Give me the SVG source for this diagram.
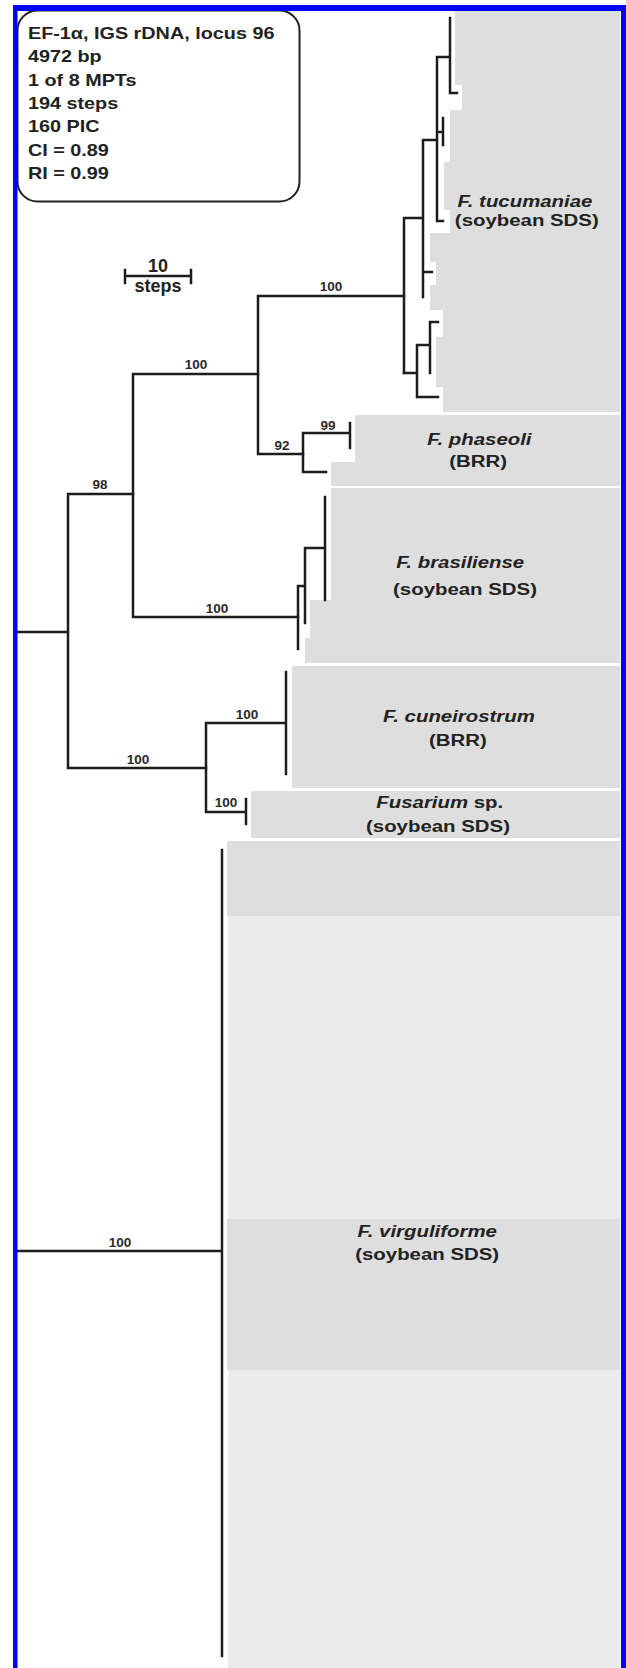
<svg xmlns="http://www.w3.org/2000/svg" width="626" height="1668" viewBox="0 0 626 1668">
<style>
.gray{fill:#dedede}
.light{fill:#ececec}
.br{stroke:#1c1c1c;stroke-width:2.5;fill:none;stroke-linecap:square}
.info{font-family:"Liberation Sans",Arial,sans-serif;font-weight:bold;font-size:16.5px;fill:#222}
.sp{font-family:"Liberation Sans",Arial,sans-serif;font-weight:bold;font-size:17px;fill:#222;text-anchor:middle}
.it{font-style:italic}
.sup{font-family:"Liberation Sans",Arial,sans-serif;font-weight:bold;font-size:13.5px;fill:#2a2a2a;text-anchor:middle}
.sc{font-family:"Liberation Sans",Arial,sans-serif;font-weight:bold;font-size:18px;fill:#222;text-anchor:middle}
</style>
<rect x="0" y="0" width="626" height="1668" fill="#ffffff"/>

<g id="clade-tucumaniae">
<polygon class="gray" points="455,11 620,11 620,412 443,412 443,387 436,387 436,337 443,337 443,310 430,310 430,285 436,285 436,262 430,262 430,233 450,233 450,210 444,210 444,162 450,162 450,110 462,110 462,85 455,85"/>
<g transform="scale(1.2,1)"><text class="sp it" x="437.5" y="207">F. tucumaniae</text><text class="sp" x="439" y="226">(soybean SDS)</text></g>
</g>
<g id="clade-phaseoli">
<polygon class="gray" points="355,415 620,415 620,486 331,486 331,462 355,462"/>
<g transform="scale(1.2,1)"><text class="sp it" x="399.5" y="445">F. phaseoli</text><text class="sp" x="398.5" y="467">(BRR)</text></g>
</g>
<g id="clade-brasiliense">
<polygon class="gray" points="331,488 620,488 620,663 305,663 305,638 310,638 310,600 331,600"/>
<g transform="scale(1.2,1)"><text class="sp it" x="383.5" y="568">F. brasiliense</text><text class="sp" x="387.5" y="595">(soybean SDS)</text></g>
</g>
<g id="clade-cuneirostrum">
<rect class="gray" x="292" y="666" width="328" height="122"/>
<g transform="scale(1.2,1)"><text class="sp it" x="382.5" y="722">F. cuneirostrum</text><text class="sp" x="381.5" y="746">(BRR)</text></g>
</g>
<g id="clade-fusarium-sp">
<rect class="gray" x="251" y="791" width="369" height="47"/>
<g transform="scale(1.2,1)"><text class="sp" x="366.5" y="808"><tspan class="it">Fusarium</tspan> sp.</text><text class="sp" x="365" y="832">(soybean SDS)</text></g>
</g>
<g id="clade-virguliforme">
<rect class="gray" x="227" y="841" width="393" height="75"/>
<rect class="light" x="228" y="916" width="392" height="303"/>
<rect class="gray" x="227" y="1219" width="393" height="151"/>
<rect class="light" x="228" y="1370" width="392" height="298"/>
<g transform="scale(1.2,1)"><text class="sp it" x="356" y="1237">F. virguliforme</text><text class="sp" x="356" y="1260">(soybean SDS)</text></g>
</g>

<g id="connectors">
<path class="br" d="M17,632H68M68,494V768M68,494H133M68,768H206"/>
<path class="br" d="M17,1251H222M222,850V1656"/>
<path class="br" d="M133,374V617M133,374H258M133,617H298"/>
<path class="br" d="M258,296V454M258,296H404M258,454H303"/>
<path class="br" d="M303,433V472M303,433H350M350,423V448M303,472H326"/>
<path class="br" d="M298,586V649M298,586H305M305,548V623M305,548H325M325,497V600"/>
<path class="br" d="M206,723V812M206,723H286M286,672V774M206,812H246M246,799V824"/>
<path class="br" d="M404,218V373M404,218H423M423,140V297M423,272H432M423,140H437M437,57V221M437,221H443M437,132H443M443,118V145M437,57H450M450,18V93M450,93H457"/>
<path class="br" d="M404,373H417M417,345V397M417,397H438M417,345H430M430,322V373M430,322H438"/>
</g>

<g id="support-values">
<text class="sup" x="100" y="489">98</text>
<text class="sup" x="138" y="764">100</text>
<text class="sup" x="196" y="369">100</text>
<text class="sup" x="217" y="613">100</text>
<text class="sup" x="331" y="291">100</text>
<text class="sup" x="282" y="450">92</text>
<text class="sup" x="328" y="430">99</text>
<text class="sup" x="247" y="719">100</text>
<text class="sup" x="226" y="807">100</text>
<text class="sup" x="120" y="1247">100</text>
</g>

<g id="scale-bar">
<path class="br" d="M125,276H191M125,270V283M191,270V283"/>
<text class="sc" x="158" y="272">10</text>
<text class="sc" x="158" y="292">steps</text>
</g>

<g id="info-box">
<rect x="17.5" y="10.5" width="282" height="191" rx="20" ry="20" fill="#ffffff" stroke="#222" stroke-width="2"/>
<g transform="scale(1.2,1)">
<text class="info" x="23.3" y="39">EF-1α, IGS rDNA, locus 96</text>
<text class="info" x="23.3" y="62.3">4972 bp</text>
<text class="info" x="23.3" y="85.6">1 of 8 MPTs</text>
<text class="info" x="23.3" y="109">194 steps</text>
<text class="info" x="23.3" y="132.3">160 PIC</text>
<text class="info" x="23.3" y="155.6">CI = 0.89</text>
<text class="info" x="23.3" y="179">RI = 0.99</text>
</g>
</g>

<g id="frame" fill="#0000ff">
<rect x="13" y="5" width="613" height="6"/>
<rect x="13" y="5" width="4.5" height="1663"/>
<rect x="621" y="5" width="5" height="1663"/>
</g>
</svg>
